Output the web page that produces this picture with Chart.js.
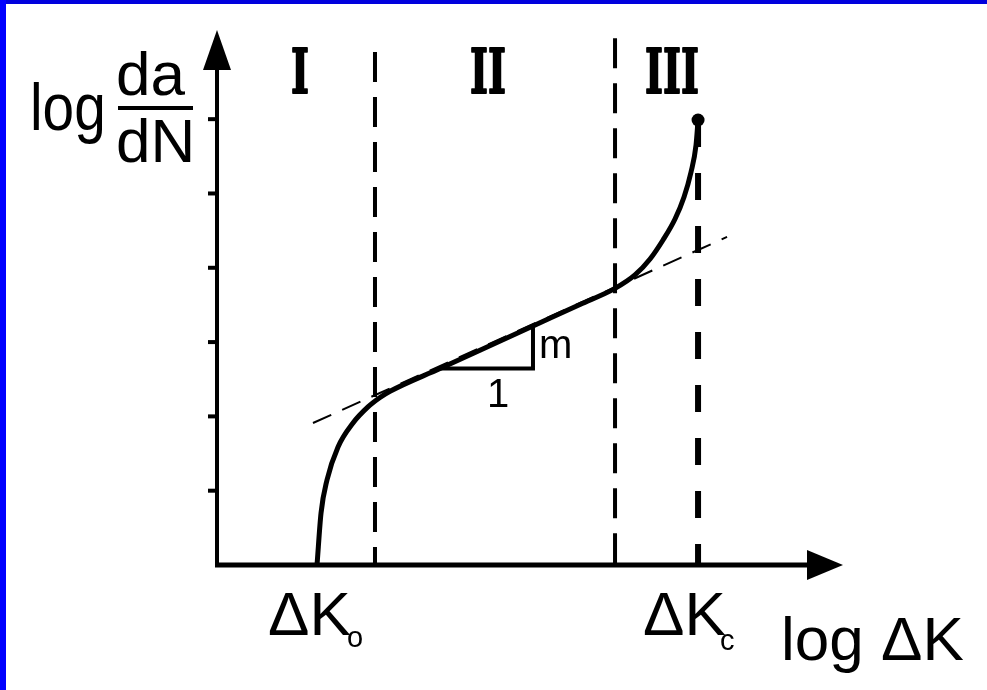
<!DOCTYPE html>
<html>
<head>
<meta charset="utf-8">
<script src="https://cdn.jsdelivr.net/npm/chart.js@4"></script>
<style>
  html, body { margin: 0; padding: 0; background: #fff; overflow: hidden; }
  canvas { display: block; }
</style>
</head>
<body>
<canvas id="crack" width="987" height="690"></canvas>
<script>
// Crack growth curve (log da/dN vs log dK), values in axis units
const curveX = [1.342, 1.396, 1.476, 1.624, 1.825, 2.026, 2.187,
  2.322, 2.993, 3.529, 4.240, 4.871, 5.341,
  5.609, 5.811, 5.985, 6.146, 6.267, 6.361, 6.428, 6.455];
const curveY = [0, 0.700, 1.144, 1.588, 1.911, 2.127, 2.254,
  2.338, 2.645, 2.891, 3.217, 3.506, 3.722,
  3.903, 4.118, 4.374, 4.657, 4.953, 5.289, 5.653, 5.989];

// Paris-law tangent
const tangentX = [1.288, 6.844];
const tangentY = [1.911, 4.415];

// region boundaries I|II and II|III, and the critical dK
const boundaryX = [2.120, 5.341];
const boundaryTopY = [6.904, 7.09];
const criticalX = [6.455];
const criticalY = [5.989];

// slope triangle (1 : m)
const triangleX = [2.993, 4.240, 4.240];
const triangleY = [2.645, 2.645, 3.217];

const regionLabels = ["I", "II", "III"];
const yTicks = [1, 2, 3, 4, 5, 6];

const X_MAX = 8.4;
const Y_MAX = 7.2;

function pts(xs, ys) {
  return xs.map((x, i) => ({ x: x, y: ys[i] }));
}

const sketchPlugin = {
  id: "sketch",
  beforeDraw(chart) {
    const ctx = chart.ctx;
    ctx.save();
    ctx.fillStyle = "#ffffff";
    ctx.fillRect(0, 0, chart.width, chart.height);
    ctx.fillStyle = "#0000dd";
    ctx.fillRect(0, 0, chart.width, 4);
    ctx.fillStyle = "#0000ff";
    ctx.fillRect(0, 0, 6, chart.height);
    ctx.restore();
  },
  afterDatasetsDraw(chart) {
    const ctx = chart.ctx;
    const xs = chart.scales.x;
    const ys = chart.scales.y;
    const x0 = xs.getPixelForValue(0);
    const y0 = ys.getPixelForValue(0);
    const xTip = xs.getPixelForValue(X_MAX);
    const yTip = ys.getPixelForValue(Y_MAX);

    ctx.save();
    ctx.strokeStyle = "#000";
    ctx.fillStyle = "#000";

    // axes
    ctx.lineWidth = 4;
    ctx.beginPath();
    ctx.moveTo(x0, y0 + 2);
    ctx.lineTo(x0, yTip + 36);
    ctx.stroke();
    ctx.lineWidth = 5;
    ctx.beginPath();
    ctx.moveTo(x0 - 2, y0);
    ctx.lineTo(xTip - 32, y0);
    ctx.stroke();

    // arrow heads
    ctx.beginPath();
    ctx.moveTo(x0, yTip);
    ctx.lineTo(x0 - 14, yTip + 40);
    ctx.lineTo(x0 + 14, yTip + 40);
    ctx.closePath();
    ctx.fill();
    ctx.beginPath();
    ctx.moveTo(xTip, y0);
    ctx.lineTo(xTip - 36, y0 - 15);
    ctx.lineTo(xTip - 36, y0 + 15);
    ctx.closePath();
    ctx.fill();

    // y ticks
    ctx.lineWidth = 4;
    yTicks.forEach((t) => {
      const py = ys.getPixelForValue(t);
      ctx.beginPath();
      ctx.moveTo(x0 - 9, py);
      ctx.lineTo(x0, py);
      ctx.stroke();
    });

    // region numerals (heavy slab serif look)
    ctx.font = "bold 62px 'DejaVu Serif'";
    ctx.textAlign = "center";
    ctx.textBaseline = "alphabetic";
    ctx.lineWidth = 2;
    ctx.lineJoin = "round";
    const regionCx = [300, 488, 672];
    regionLabels.forEach((lab, i) => {
      ctx.save();
      ctx.translate(regionCx[i], 93);
      ctx.scale(0.62, 1);
      ctx.fillText(lab, 0, 0);
      ctx.strokeText(lab, 0, 0);
      ctx.restore();
    });

    // y axis title: log da/dN
    ctx.textAlign = "left";
    ctx.save();
    ctx.translate(30, 130);
    ctx.scale(0.86, 1);
    ctx.font = "66px 'Liberation Sans'";
    ctx.fillText("log", 0, 0);
    ctx.restore();
    ctx.font = "62px 'Liberation Sans'";
    ctx.fillText("da", 116, 95);
    ctx.fillText("dN", 116, 162);
    ctx.fillRect(118, 106, 75, 4);

    // slope triangle labels
    ctx.font = "40px 'Liberation Sans'";
    ctx.fillText("m", 539, 358);
    ctx.fillText("1", 487, 407);

    // x labels
    ctx.font = "62px 'Liberation Sans'";
    ctx.fillText("\u0394K", 268, 635);
    ctx.fillText("\u0394K", 643, 635);
    ctx.fillText("log \u0394K", 781, 660);
    ctx.font = "29px 'Liberation Sans'";
    ctx.fillText("o", 347, 647);
    ctx.fillText("c", 720, 650);

    ctx.restore();
  },
};

const ctx = document.getElementById("crack").getContext("2d");
new Chart(ctx, {
  type: "scatter",
  data: {
    datasets: [
      {
        data: pts(curveX, curveY),
        showLine: true,
        borderColor: "#000",
        borderWidth: 5,
        pointRadius: 0,
        cubicInterpolationMode: "monotone",
      },
      {
        data: pts(criticalX, criticalY),
        pointRadius: 6.5,
        pointBackgroundColor: "#000",
        pointBorderWidth: 0,
      },
      {
        data: pts(triangleX, triangleY),
        showLine: true,
        borderColor: "#000",
        borderWidth: 4,
        pointRadius: 0,
      },
      {
        data: pts(tangentX, tangentY),
        showLine: true,
        borderColor: "#000",
        borderWidth: 2,
        borderDash: [20, 12],
        pointRadius: 0,
      },
      {
        data: [{ x: boundaryX[0], y: boundaryTopY[0] }, { x: boundaryX[0], y: 0 }],
        showLine: true,
        borderColor: "#000",
        borderWidth: 4,
        borderDash: [30, 15],
        pointRadius: 0,
      },
      {
        data: [{ x: boundaryX[1], y: boundaryTopY[1] }, { x: boundaryX[1], y: 0 }],
        showLine: true,
        borderColor: "#000",
        borderWidth: 4,
        borderDash: [30, 15],
        pointRadius: 0,
      },
      {
        data: [{ x: criticalX[0], y: criticalY[0] }, { x: criticalX[0], y: 0 }],
        showLine: true,
        borderColor: "#000",
        borderWidth: 6,
        borderDash: [27, 26],
        pointRadius: 0,
      },
    ],
  },
  options: {
    responsive: false,
    animation: false,
    devicePixelRatio: 1,
    layout: { padding: { left: 217, top: 30, right: 144, bottom: 125 } },
    scales: {
      x: { type: "linear", min: 0, max: X_MAX, display: false },
      y: { type: "linear", min: 0, max: Y_MAX, display: false },
    },
    plugins: {
      legend: { display: false },
      tooltip: { enabled: false },
    },
  },
  plugins: [sketchPlugin],
});
</script>
</body>
</html>
